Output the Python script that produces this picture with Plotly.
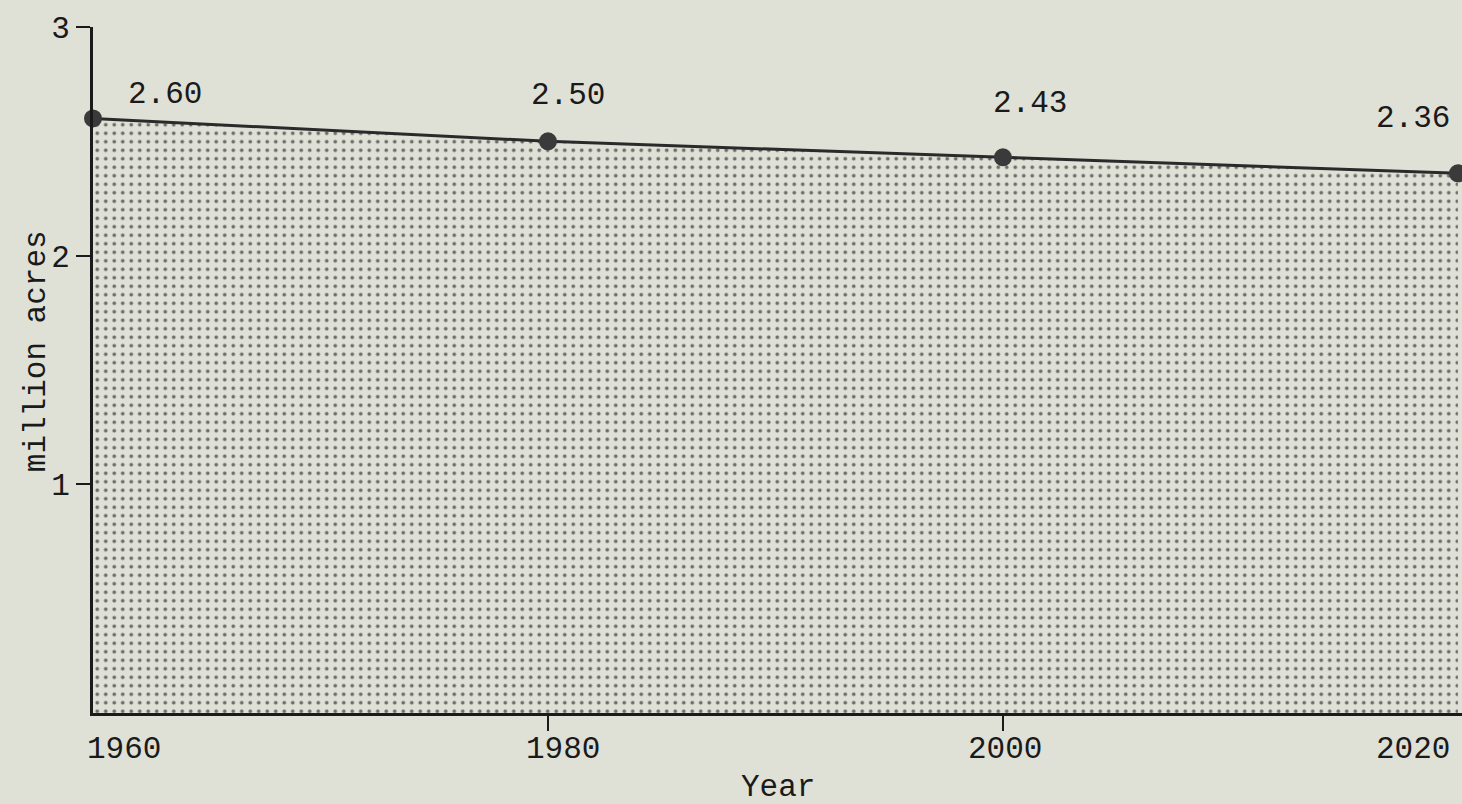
import plotly.graph_objects as go

# Data
years = [1960, 1980, 2000, 2020]
acres = [2.60, 2.50, 2.43, 2.36]
value_labels = ["2.60", "2.50", "2.43", "2.36"]
year_labels = ["1960", "1980", "2000", "2020"]
y_ticks = [1, 2, 3]
y_ticktext = ["1", "2", "3"]

# Styles
BG = "#dfe1d7"
INK = "#1a1a1a"
FONT = "Liberation Mono"
FS = 31
label_shift = [(72, 24), (20, 46), (27, 54), (-45, 55)]
year_shift = [(31, 0), (15, 0), (2, 0), (-45, 0)]

fig = go.Figure()
fig.add_trace(go.Scatter(
    x=years, y=acres,
    mode="lines+markers",
    fill="tozeroy",
    fillcolor=BG,
    fillpattern=dict(shape=".", size=8.5, solidity=0.15,
                     fgcolor="#000000", bgcolor=BG),
    line=dict(color="#2a2a2a", width=3),
    marker=dict(size=18, color="#3a3a3a"),
    cliponaxis=False,
    showlegend=False,
    hoverinfo="skip",
))

annotations = []
for yr, v, t, (dx, dy) in zip(years, acres, value_labels, label_shift):
    annotations.append(dict(x=yr, y=v, xref="x", yref="y", text=t,
                            showarrow=False, xshift=dx, yshift=dy,
                            font=dict(family=FONT, size=FS, color=INK)))
for yr, t, (dx, dy) in zip(years, year_labels, year_shift):
    annotations.append(dict(x=yr, y=0, xref="x", yref="paper", text=t,
                            showarrow=False, xshift=dx, yshift=-36,
                            yanchor="middle",
                            font=dict(family=FONT, size=FS, color=INK)))
annotations.append(dict(x=0, y=1.58, xref="paper", yref="y", text="million acres",
                        showarrow=False, textangle=-90, xshift=-76,
                        font=dict(family=FONT, size=FS, color=INK)))
annotations.append(dict(x=0.5, y=0, xref="paper", yref="paper", text="Year",
                        showarrow=False, yshift=-74, yanchor="middle",
                        font=dict(family=FONT, size=FS, color=INK)))

fig.update_layout(
    width=1462, height=804,
    margin=dict(l=93, r=0, t=27, b=91),
    paper_bgcolor=BG, plot_bgcolor=BG,
    font=dict(family=FONT, size=FS, color=INK),
    annotations=annotations,
    xaxis=dict(range=[1960, 2020.18], showgrid=False, zeroline=False,
               showline=True, linecolor=INK, linewidth=3,
               tickvals=years[1:3], ticks="outside", ticklen=15, tickwidth=2,
               tickcolor=INK, showticklabels=False),
    yaxis=dict(range=[0, 3], showgrid=False, zeroline=False,
               showline=True, linecolor=INK, linewidth=3,
               tickvals=y_ticks, ticktext=y_ticktext, ticks="outside",
               ticklen=14, tickwidth=2, tickcolor=INK,
               ticklabelstandoff=0,
               tickfont=dict(family=FONT, size=FS, color=INK)),
)

fig.write_html(
    "out.html",
    config={"displayModeBar": False},
    post_script=("document.body.style.margin='0';"
                 "document.body.style.overflow='hidden';"
                 "document.body.style.background='" + BG + "';"),
)
